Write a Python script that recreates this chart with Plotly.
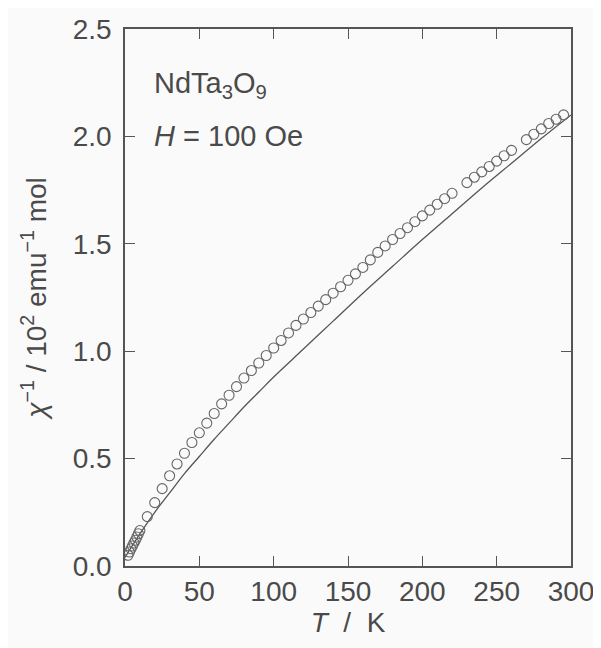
import plotly.graph_objects as go

# Measured data (open circles)
T_data = [2, 3, 4, 5, 6, 7, 8, 9, 10,
          15, 20, 25, 30, 35, 40, 45, 50, 55, 60, 65, 70, 75, 80, 85, 90, 95, 100,
          105, 110, 115, 120, 125, 130, 135, 140, 145, 150, 155, 160, 165, 170,
          175, 180, 185, 190, 195, 200, 205, 210, 215, 220,
          230, 235, 240, 245, 250, 255, 260,
          270, 275, 280, 285, 290, 295]
chi_inv = [0.05, 0.065, 0.08, 0.093, 0.107, 0.12, 0.135, 0.15, 0.165,
           0.23, 0.295, 0.36, 0.42, 0.475, 0.525, 0.575, 0.62, 0.665, 0.71, 0.755, 0.795, 0.835, 0.875, 0.91, 0.945, 0.98, 1.015,
           1.05, 1.085, 1.12, 1.15, 1.18, 1.21, 1.24, 1.27, 1.30, 1.33, 1.36, 1.39, 1.425, 1.46,
           1.49, 1.52, 1.548, 1.575, 1.603, 1.63, 1.657, 1.684, 1.71, 1.735,
           1.785, 1.81, 1.835, 1.86, 1.885, 1.91, 1.935,
           1.985, 2.01, 2.035, 2.06, 2.08, 2.10]

# Calculated curve (solid line)
T_fit = [0, 10, 20, 30, 40, 50, 60, 70, 80, 90, 100, 120, 140, 160, 180, 200, 220, 240, 260, 280, 300]
chi_inv_fit = [0.04, 0.15, 0.25, 0.34, 0.43, 0.51, 0.59, 0.665, 0.74, 0.81, 0.88, 1.01, 1.14, 1.27,
               1.395, 1.52, 1.64, 1.76, 1.875, 1.99, 2.10]

x_ticks = [0, 50, 100, 150, 200, 250, 300]
y_ticks = [0.0, 0.5, 1.0, 1.5, 2.0, 2.5]

ink = "#555555"
txt = "#4a4a4a"
font_family = "Liberation Sans, Arial, Helvetica, sans-serif"

fig = go.Figure()
fig.add_trace(go.Scatter(x=T_fit, y=chi_inv_fit, mode="lines",
                         line=dict(color=ink, width=1.3), line_shape="spline",
                         showlegend=False, hoverinfo="skip"))
fig.add_trace(go.Scatter(x=T_data, y=chi_inv, mode="markers",
                         marker=dict(symbol="circle-open", size=10, color="#666666",
                                     line=dict(width=1.1, color="#666666")),
                         showlegend=False))

axis_common = dict(showgrid=False, zeroline=False, showline=True, linecolor=ink, linewidth=1.6,
                   mirror="ticks", ticks="inside", ticklen=10, tickwidth=1.4, tickcolor=ink,
                   tickfont=dict(size=28, color=txt, family=font_family))

fig.update_xaxes(range=[0, 300], tickvals=x_ticks, ticktext=[str(v) for v in x_ticks],
                 title=dict(text="<i>T</i>  /  K", font=dict(size=28, color=txt, family=font_family), standoff=2),
                 **axis_common)
fig.update_yaxes(range=[0, 2.5], tickvals=y_ticks, ticktext=[f"{v:.1f}" for v in y_ticks],
                 ticklabelstandoff=6,
                 title=dict(text="<i>χ</i><sup>−1</sup> / 10<sup>2</sup> emu<sup>−1</sup> mol",
                            font=dict(size=28, color=txt, family=font_family), standoff=18),
                 **axis_common)

fig.add_annotation(x=0.06, y=0.895, xref="paper", yref="paper", xanchor="left", yanchor="middle",
                   text="NdTa<sub>3</sub>O<sub>9</sub>", showarrow=False,
                   font=dict(size=29, color=txt, family=font_family))
fig.add_annotation(x=0.06, y=0.80, xref="paper", yref="paper", xanchor="left", yanchor="middle",
                   text="<i>H</i> = 100 Oe", showarrow=False,
                   font=dict(size=29, color=txt, family=font_family))

# The page body keeps an 8 px default margin, so the figure is sized to fit inside it
fig.update_layout(width=593, height=640,
                  margin=dict(l=117, r=30, t=21, b=82, autoexpand=False),
                  paper_bgcolor="#fbfafb", plot_bgcolor="#fbfafb",
                  font=dict(family=font_family, color=txt))

fig.write_html("out.html")
